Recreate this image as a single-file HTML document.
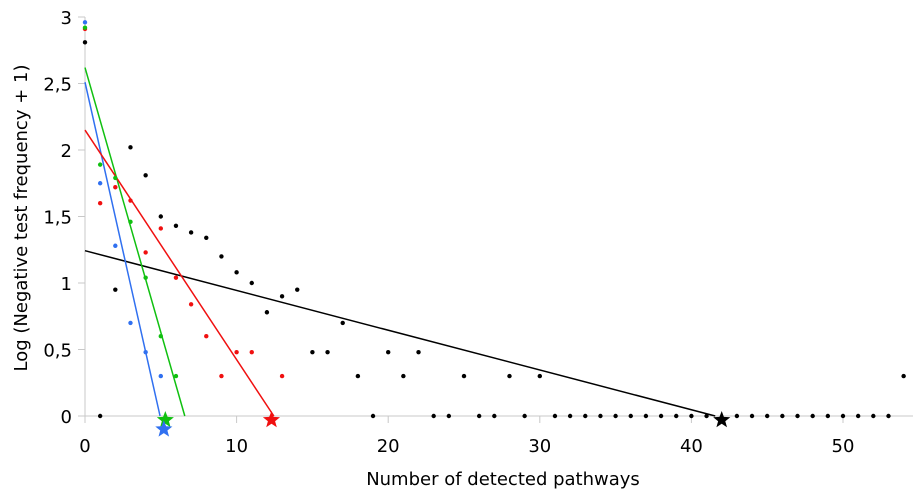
<!DOCTYPE html>
<html><head><meta charset="utf-8"><style>
body{margin:0;background:#fff;}
svg{display:block;font-family:"DejaVu Sans","Liberation Sans",sans-serif;}
</style></head><body>
<svg id="chart" width="913" height="492" viewBox="0 0 913 492" xmlns="http://www.w3.org/2000/svg">
<g id="axes"></g>
<g id="lines"></g>
<g id="points"></g>
<g id="stars"></g>
<text x="503" y="485" font-size="18" text-anchor="middle" fill="#000">Number of detected pathways</text>
<text transform="translate(27,218) rotate(-90)" font-size="18" text-anchor="middle" fill="#000">Log (Negative test frequency + 1)</text>
</svg>
<script>
const xTicks=[0,10,20,30,40,50];
const yTicks=[0,0.5,1,1.5,2,2.5,3];
const yTickLabels=["0","0,5","1","1,5","2","2,5","3"];
const blackX=[0,1,2,3,4,5,6,7,8,9,10,11,12,13,14,15,16,17,18,19,20,21,22,23,24,25,26,27,28,29,30,31,32,33,34,35,36,37,38,39,40,41,43,44,45,46,47,48,49,50,51,52,53,54];
const blackY=[2.81,0,0.95,2.02,1.81,1.5,1.43,1.38,1.34,1.2,1.08,1.0,0.78,0.9,0.95,0.48,0.48,0.7,0.3,0,0.48,0.3,0.48,0,0,0.3,0,0,0.3,0,0.3,0,0,0,0,0,0,0,0,0,0,0,0,0,0,0,0,0,0,0,0,0,0,0.3];
const blueX=[0,1,2,3,4,5];
const blueY=[2.96,1.75,1.28,0.70,0.48,0.30];
const greenX=[0,1,2,3,4,5,6];
const greenY=[2.92,1.89,1.79,1.46,1.04,0.60,0.30];
const redX=[0,1,2,3,4,5,6,7,8,9,10,11,13];
const redY=[2.91,1.60,1.72,1.62,1.23,1.41,1.04,0.84,0.60,0.30,0.48,0.48,0.30];
const lineNames=["black","blue","green","red"];
const lineIntercepts=[1.243,2.51,2.62,2.15];
const lineSlopes=[-0.0299,-0.507,-0.398,-0.1726];
const starX=[42,5.2,5.3,12.3];
const starY=[-0.03,-0.1,-0.03,-0.03];
const colors={black:"#000",blue:"#3070f0",green:"#10c010",red:"#f01010"};
const NS="http://www.w3.org/2000/svg";
const sx=v=>85+v*15.16, sy=v=>416-v*133;
function mk(tag,attrs,parent){const e=document.createElementNS(NS,tag);for(const k in attrs)e.setAttribute(k,attrs[k]);parent.appendChild(e);return e;}
const axes=document.getElementById('axes');
let a=mk('line',{x1:85,y1:17,x2:85,y2:423,stroke:'#c8c8c8','stroke-width':1},axes);


a=mk('line',{x1:78,y1:416,x2:913,y2:416,stroke:'#c8c8c8','stroke-width':1},axes);


xTicks.forEach(t=>{
 const l=mk('line',{x1:sx(t),y1:416,x2:sx(t),y2:423,stroke:'#c8c8c8'},axes);
 
 
 const tx=mk('text',{x:sx(t),y:452,'font-size':18,'text-anchor':'middle',fill:'#000'},axes);
 tx.textContent=t;
 
 
});
yTicks.forEach((t,i)=>{
 const l=mk('line',{x1:78,y1:sy(t),x2:85,y2:sy(t),stroke:'#c8c8c8'},axes);
 
 
 const tx=mk('text',{x:72,y:sy(t)+7,'font-size':18,'text-anchor':'end',fill:'#000'},axes);
 tx.textContent=yTickLabels[i];
 
 
});
const lg=document.getElementById('lines');
lineNames.forEach((n,i)=>{
 const b=lineIntercepts[i],m=lineSlopes[i],xe=-b/m;
 const l=mk('line',{x1:sx(0),y1:sy(b),x2:sx(xe),y2:sy(0),stroke:colors[n],'stroke-width':1.5},lg);
 
 
});
const pg=document.getElementById('points');
function pts(xs,ys,n){xs.forEach((x,i)=>{
 const c=mk('circle',{cx:sx(x),cy:sy(ys[i]),r:2.2,fill:colors[n]},pg);
 
 
});}
pts(blackX,blackY,'black');pts(redX,redY,'red');pts(greenX,greenY,'green');pts(blueX,blueY,'blue');
const sg=document.getElementById('stars');
function star(cx,cy,r){let p=[];for(let k=0;k<10;k++){const ang=-Math.PI/2+k*Math.PI/5;const rr=k%2?r*0.42:r;p.push((cx+rr*Math.cos(ang)).toFixed(1)+','+(cy+rr*Math.sin(ang)).toFixed(1));}return p.join(' ');}
[0,2,1,3].forEach(i=>{
 const n=lineNames[i];
 const s=mk('polygon',{points:star(sx(starX[i]),sy(starY[i]),9),fill:colors[n]},sg);
 
 
});
</script>
</body></html>
